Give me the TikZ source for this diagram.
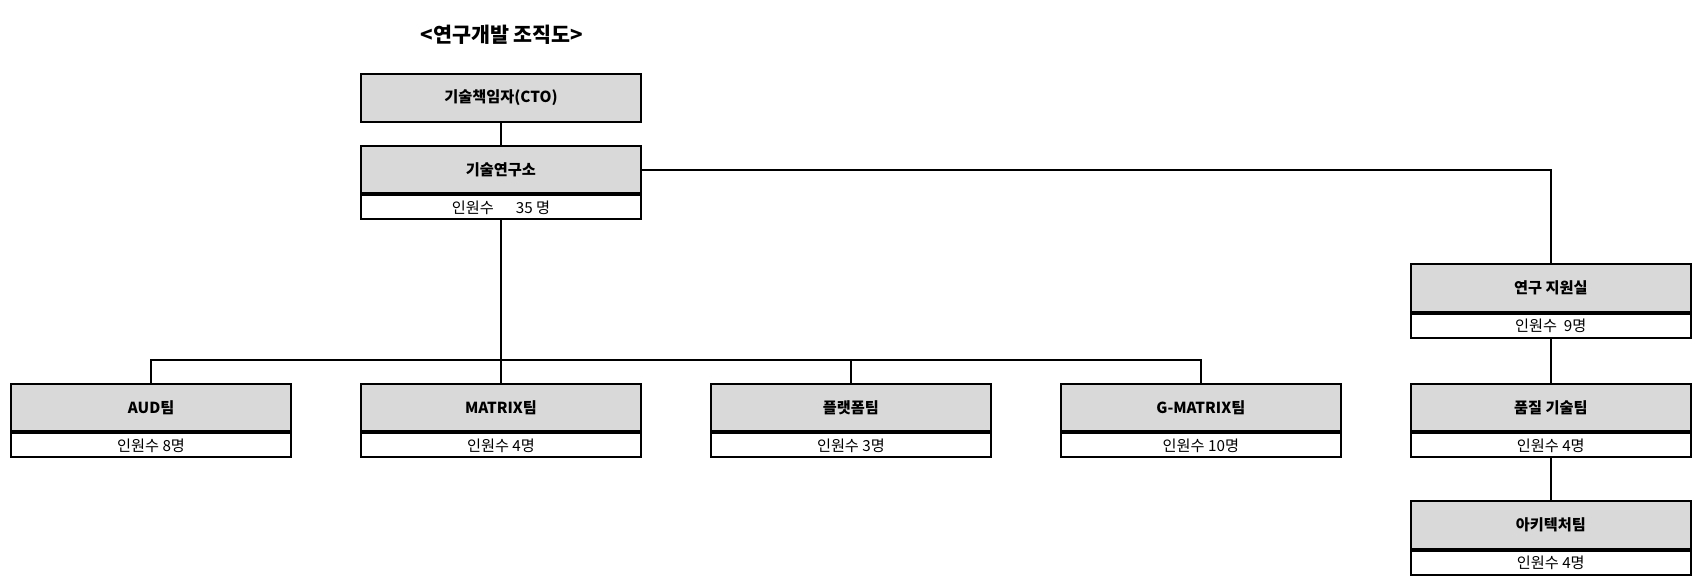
\documentclass[tikz,border=0pt]{standalone}
\usepackage{fontspec}
\setmainfont{Noto Sans CJK KR}
\begin{document}
\begin{tikzpicture}[x=0.5pt,y=-0.5pt,
  headbox/.style={draw,line width=0.9pt,fill=gray!30,minimum width=129pt,minimum height=22pt,inner sep=0pt,font=\fontsize{7}{8}\selectfont\bfseries},
  countbox/.style={draw,line width=0.9pt,fill=white,minimum width=129pt,minimum height=11pt,inner sep=0pt,font=\fontsize{7}{8}\selectfont},
  link/.style={line width=0.9pt}]
\useasboundingbox (0,0) rectangle (1568,537);
\node[font=\fontsize{9.5}{11}\selectfont\bfseries] (title) at (462,32) {<연구개발 조직도>};
\node[headbox] (cto) at (461,90) {기술책임자(CTO)};
\node[headbox] (lab) at (461,156) {기술연구소};
\node[countbox,anchor=north] (labc) at (lab.south) {인원수\quad\ \ 35 명};
\node[headbox] (sup) at (1427,265) {연구 지원실};
\node[countbox,anchor=north] (supc) at (sup.south) {인원수\ \ 9명};
\node[headbox] (aud) at (139,375) {AUD팀};
\node[countbox,anchor=north] (audc) at (aud.south) {인원수 8명};
\node[headbox] (mat) at (461,375) {MATRIX팀};
\node[countbox,anchor=north] (matc) at (mat.south) {인원수 4명};
\node[headbox] (plat) at (783,375) {플랫폼팀};
\node[countbox,anchor=north] (platc) at (plat.south) {인원수 3명};
\node[headbox] (gm) at (1105,375) {G-MATRIX팀};
\node[countbox,anchor=north] (gmc) at (gm.south) {인원수 10명};
\node[headbox] (qa) at (1427,375) {품질 기술팀};
\node[countbox,anchor=north] (qac) at (qa.south) {인원수 4명};
\node[headbox] (arch) at (1427,483) {아키텍처팀};
\node[countbox,anchor=north] (archc) at (arch.south) {인원수 4명};
\coordinate (bus) at (461,331);
\draw[link] (cto.south) -- (lab.north);
\draw[link] (lab.east) -| (sup.north);
\draw[link] (supc.south) -- (qa.north);
\draw[link] (qac.south) -- (arch.north);
\draw[link] (labc.south) -- (bus);
\draw[link] (aud.north) |- (bus) -| (gm.north);
\draw[link] (bus) -- (mat.north);
\draw[link] (plat.north) -- (plat.north |- bus);
\end{tikzpicture}
\end{document}
